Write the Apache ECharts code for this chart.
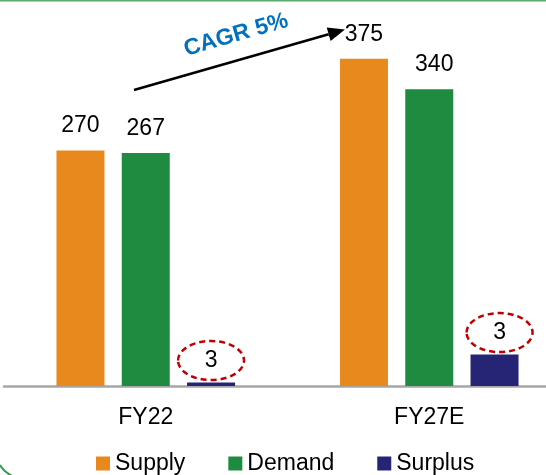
<!DOCTYPE html>
<html>
<head>
<meta charset="utf-8">
<script src="https://cdn.jsdelivr.net/npm/echarts@6/dist/echarts.min.js"></script>
<style>
html, body { margin: 0; padding: 0; background: #fff; }
#main { width: 546px; height: 475px; }
</style>
</head>
<body>
<div id="main"></div>
<script>
var categories = ["FY22", "FY27E"];
var seriesNames = ["Supply", "Demand", "Surplus"];
var supply = [270, 375];
var demand = [267, 340];
// surplus bars as drawn in the picture, labels as printed
var surplus = [4, 36];
var surplusLabels = ["3", "3"];
var cagrText = "CAGR 5%";

var font = "Liberation Sans, Arial, sans-serif";
var barW = 48;

var myChart = echarts.init(document.getElementById("main"));

function label(extra) {
  var l = {
    show: true,
    position: "top",
    distance: 13,
    color: "#000",
    fontSize: 23,
    fontFamily: font
  };
  for (var k in extra) l[k] = extra[k];
  return l;
}

// arrow geometry (annotation)
var arrowFrom = [134, 90];
var arrowTip = [345, 29.5];
var dx = arrowTip[0] - arrowFrom[0], dy = arrowTip[1] - arrowFrom[1];
var len = Math.sqrt(dx * dx + dy * dy);
var ux = dx / len, uy = dy / len;
var headL = 17, headW = 7;
var bx = arrowTip[0] - ux * headL, by = arrowTip[1] - uy * headL;

var option = {
  animation: false,
  grid: { left: 4, width: 567, top: 37, bottom: 89, outerBoundsMode: "none", containLabel: false },
  legend: {
    data: seriesNames,
    left: 91,
    top: 447,
    icon: "rect",
    itemWidth: 14,
    itemHeight: 14,
    itemGap: 43,
    textStyle: { color: "#000", fontSize: 23, fontFamily: font }
  },
  xAxis: {
    type: "category",
    data: categories,
    axisTick: { show: false },
    axisLine: { lineStyle: { color: "#a6a6a6", width: 2.5 } },
    axisLabel: { color: "#000", fontSize: 23, fontFamily: font, margin: 20 }
  },
  yAxis: { type: "value", min: 0, max: 400, show: false },
  series: [
    {
      name: "Supply",
      type: "bar",
      barWidth: barW,
      barGap: "36%",
      itemStyle: { color: "#E8891E" },
      label: label({}),
      data: supply
    },
    {
      name: "Demand",
      type: "bar",
      barWidth: barW,
      barGap: "36%",
      itemStyle: { color: "#1F8B40" },
      label: label({}),
      data: demand.map(function (v, i) {
        return i === 1 ? { value: v, label: { offset: [5, 0] } } : v;
      })
    },
    {
      name: "Surplus",
      type: "bar",
      barWidth: barW,
      barGap: "36%",
      itemStyle: { color: "#262474" },
      label: label({
        distance: 10,
        formatter: function (p) { return surplusLabels[p.dataIndex]; }
      }),
      data: surplus.map(function (v, i) {
        return i === 1 ? { value: v, label: { offset: [5, 0] } } : v;
      })
    },
    {
      // dashed red rings round the surplus labels
      type: "custom",
      silent: true,
      z: 5,
      data: surplus.map(function (v, i) { return [i, v]; }),
      renderItem: function (params, api) {
        var pt = api.coord([api.value(0), api.value(1)]);
        var cx = pt[0] + barW * 1.36 + (params.dataIndex === 1 ? 5 : 0);
        return {
          type: "ellipse",
          shape: { cx: cx, cy: pt[1] - 22, rx: 33, ry: 19.5 },
          style: { fill: null, stroke: "#C00000", lineWidth: 2.5, lineDash: [6, 4] }
        };
      }
    }
  ],
  graphic: [
    { type: "line", shape: { x1: 0, y1: 0.5, x2: 546, y2: 0.5 }, style: { stroke: "#5bab6e", lineWidth: 2 } },
    { type: "bezierCurve", shape: { x1: 0, y1: 465, cpx1: 3, cpy1: 471, x2: 12, y2: 476 }, style: { stroke: "#2e9e47", lineWidth: 2, fill: null } },
    { type: "line", shape: { x1: arrowFrom[0], y1: arrowFrom[1], x2: bx, y2: by }, style: { stroke: "#000", lineWidth: 2.5 } },
    {
      type: "polygon",
      shape: { points: [arrowTip, [bx - uy * headW, by + ux * headW], [bx + uy * headW, by - ux * headW]] },
      style: { fill: "#000" }
    },
    {
      type: "text",
      x: 236,
      y: 35,
      rotation: 16 * Math.PI / 180,
      style: {
        text: cagrText,
        fill: "#0070C0",
        font: "bold 23px " + font,
        textAlign: "center",
        textVerticalAlign: "middle"
      }
    }
  ]
};

myChart.setOption(option);
</script>
</body>
</html>
